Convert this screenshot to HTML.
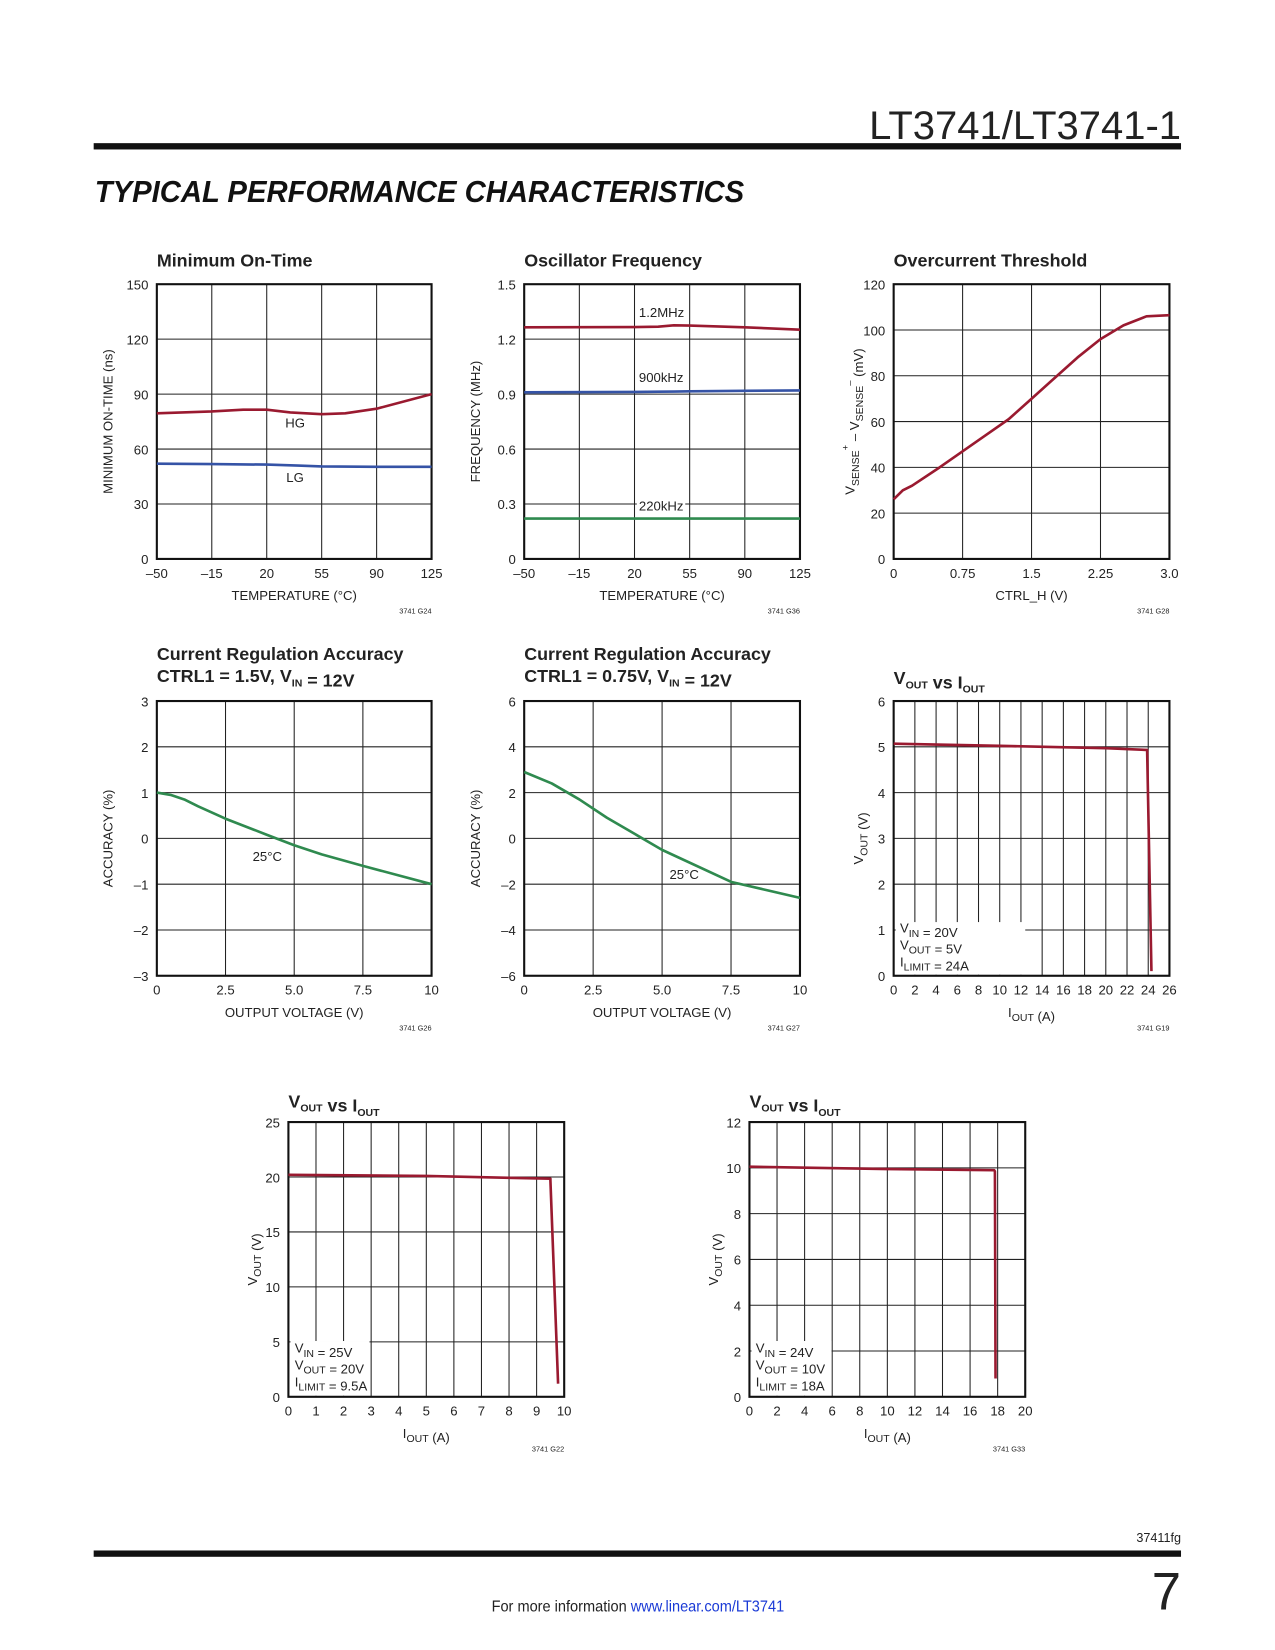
<!DOCTYPE html>
<html><head><meta charset="utf-8">
<style>
html,body{margin:0;padding:0;background:#fff;}
svg{display:block;font-family:"Liberation Sans Narrow","Liberation Sans",sans-serif;}
</style></head>
<body>
<svg id="page" width="1275" height="1650" viewBox="0 0 1275 1650" xmlns="http://www.w3.org/2000/svg">
<g transform="scale(1.0526)">
<text x="1122" y="132" text-anchor="end" font-family="Liberation Sans, sans-serif" font-size="38" fill="#222" font-weight="300">LT3741/LT3741-1</text>
<rect x="89" y="136" width="1033" height="6" fill="#111"/>
<text x="90" y="192" font-family="Liberation Sans, sans-serif" font-size="29" font-weight="bold" font-style="italic" fill="#111" textLength="617" lengthAdjust="spacingAndGlyphs">TYPICAL PERFORMANCE CHARACTERISTICS</text>
<g id="charts"></g>
<text x="1122" y="1465" text-anchor="end" font-size="12" fill="#222">37411fg</text>
<rect x="89" y="1473" width="1033" height="6" fill="#111"/>
<text x="1122" y="1529" text-anchor="end" font-family="Liberation Sans, sans-serif" font-size="50" font-weight="300" fill="#222">7</text>
<text x="467" y="1531" font-size="15" fill="#222" textLength="278" lengthAdjust="spacingAndGlyphs">For more information <tspan fill="#1a3ad6">www.linear.com/LT3741</tspan></text>
</g>
</svg>
<script>
// ---- data ----
const c1Temp = [-50,-15,5,20,35,55,70,90,125];
const c1HG = [79.5,80.5,81.5,81.5,80,79,79.5,82,90];
const c1TempLG = [-50,-15,20,40,55,90,125];
const c1LG = [52,51.8,51.5,51,50.5,50.3,50.3];
const c2Temp = [-50,20,35,45,55,90,125];
const c2F12 = [1.265,1.266,1.268,1.275,1.274,1.265,1.252];
const c2F900 = [0.91,0.912,0.913,0.914,0.915,0.918,0.92];
const c2F220 = [0.22,0.22,0.22,0.22,0.22,0.22,0.22];
const c3Ctrl = [0,0.1,0.2,0.5,0.75,1,1.25,1.5,1.75,2,2.25,2.5,2.75,3];
const c3Vs = [26,30,32,40,47,54,61,70,79,88,96,102,106,106.5];
const c4Vout = [0,0.5,1,1.5,2.5,4,5,6,7.5,10];
const c4Acc = [1,0.95,0.85,0.7,0.43,0.08,-0.15,-0.35,-0.6,-1];
const c5Vout = [0,1,2,3,4,5,7.5,10];
const c5Acc = [2.9,2.4,1.7,0.9,0.2,-0.5,-1.9,-2.6];
const c6Iout = [0,10,20,23.9,24.3];
const c6Vout = [5.07,5.02,4.97,4.93,0.1];
const c7Iout = [0,5,9.5,9.5,9.78];
const c7Vout = [20.2,20.1,19.85,19.7,1.2];
const c8Iout = [0,10,17.75,17.8,17.85];
const c8Vout = [10.05,9.95,9.9,9.85,0.8];
const ticks1x = ['–50','–15','20','55','90','125'];
const ticks1y = ['0','30','60','90','120','150'];
const ticks2y = ['0','0.3','0.6','0.9','1.2','1.5'];
const ticks3x = ['0','0.75','1.5','2.25','3.0'];
const ticks3y = ['0','20','40','60','80','100','120'];
const ticks4x = ['0','2.5','5.0','7.5','10'];
const ticks4y = ['–3','–2','–1','0','1','2','3'];
const ticks5y = ['–6','–4','–2','0','2','4','6'];
const ticks6x = ['0','2','4','6','8','10','12','14','16','18','20','22','24','26'];
const ticks6y = ['0','1','2','3','4','5','6'];
const ticks7x = ['0','1','2','3','4','5','6','7','8','9','10'];
const ticks7y = ['0','5','10','15','20','25'];
const ticks8x = ['0','2','4','6','8','10','12','14','16','18','20'];
const ticks8y = ['0','2','4','6','8','10','12'];

const RED='#9a1a30', BLUE='#3553a6', GREEN='#2f8a4f';
const NS='http://www.w3.org/2000/svg';
const root=document.getElementById('charts');
function mk(tag,attrs,parent){const e=document.createElementNS(NS,tag);for(const k in attrs)e.setAttribute(k,attrs[k]);(parent||root).appendChild(e);return e;}

function chart(c){
  const g=mk('g',{});
  
  
  const X=v=>c.x+(v-c.xmin)/(c.xmax-c.xmin)*c.w;
  const Y=v=>c.y+c.h-(v-c.ymin)/(c.ymax-c.ymin)*c.h;
  const nx=c.xt.length-1, ny=c.yt.length-1;
  for(let i=1;i<nx;i++){const l=mk('line',{x1:c.x+i*c.w/nx,x2:c.x+i*c.w/nx,y1:c.y,y2:c.y+c.h,stroke:'#222','stroke-width':1},g);
    
    }
  for(let i=1;i<ny;i++){const l=mk('line',{x1:c.x,x2:c.x+c.w,y1:c.y+i*c.h/ny,y2:c.y+i*c.h/ny,stroke:'#222','stroke-width':1},g);
    
    }
  if(c.box){const b=mk('rect',{x:c.box[0],y:c.box[1],width:c.box[2],height:c.box[3],fill:'#fff'},g);
    
    }
  const fr=mk('rect',{x:c.x,y:c.y,width:c.w,height:c.h,fill:'none',stroke:'#111','stroke-width':2},g);
  
  
  c.xt.forEach((t,i)=>{const e=mk('text',{x:c.x+i*c.w/nx,y:c.y+c.h+18,'text-anchor':'middle','font-size':12.5,fill:'#222'},g);e.textContent=t;
    
    });
  c.yt.forEach((t,i)=>{const e=mk('text',{x:c.x-8,y:c.y+c.h-i*c.h/ny+5,'text-anchor':'end','font-size':12.5,fill:'#222'},g);e.textContent=t;
    
    });
  c.series.forEach(s=>{const d=s.xs.map((v,i)=>(i?'L':'M')+X(v).toFixed(1)+','+Y(s.ys[i]).toFixed(1)).join('');
    const p=mk('path',{d:d,fill:'none',stroke:s.color,'stroke-width':2.5,'stroke-linejoin':'round'},g);
    
    });
  (c.labels||[]).forEach(L=>{
    if(L.bg){const r=mk('rect',{x:L.x-2,y:L.y-12,width:L.bg,height:16,fill:'#fff'},g);}
    const e=mk('text',{x:L.x,y:L.y,'font-size':12.5,fill:'#222'},g);e.innerHTML=L.t;
    
    });
  const t=mk('text',{x:c.x,y:c.titleY,'font-size':17,'font-weight':'bold',fill:'#222'},g);t.innerHTML=c.title;
  
  
  if(c.title2){const t2=mk('text',{x:c.x,y:c.titleY+21,'font-size':17,'font-weight':'bold',fill:'#222'},g);t2.innerHTML=c.title2;
    
    }
  const xl=mk('text',{x:c.x+c.w/2,y:c.y+c.h+39,'text-anchor':'middle','font-size':12.5,fill:'#222'},g);xl.innerHTML=c.xlabel;
  
  
  const yx=c.ylx||(c.x-42);
  const yl=mk('text',{x:yx,y:c.y+c.h/2,'text-anchor':'middle','font-size':12.5,fill:'#222',transform:'rotate(-90 '+yx+' '+(c.y+c.h/2)+')'},g);yl.innerHTML=c.ylabel;
  
  
  if(c.code){const cd=mk('text',{x:c.x+c.w,y:c.y+c.h+52,'text-anchor':'end','font-size':7,fill:'#222'},g);cd.textContent=c.code;
    
    }
}
const sub=s=>'<tspan font-size="10" dy="4">'+s+'</tspan><tspan dy="-4"></tspan>';
const TEMP='TEMPERATURE (°C)';
chart({name:'min-on-time-chart',x:149,y:270,w:261,h:261,xmin:-50,xmax:125,ymin:0,ymax:150,xt:ticks1x,yt:ticks1y,titleY:253,title:'Minimum On-Time',xlabel:TEMP,ylabel:'MINIMUM ON-TIME (ns)',code:'3741 G24',
 series:[{name:'hg-line',xs:c1Temp,ys:c1HG,color:RED},{name:'lg-line',xs:c1TempLG,ys:c1LG,color:BLUE}],
 labels:[{x:271,y:406,t:'HG'},{x:272,y:458,t:'LG'}]});
chart({name:'osc-frequency-chart',x:498,y:270,w:262,h:261,xmin:-50,xmax:125,ymin:0,ymax:1.5,xt:ticks1x,yt:ticks2y,titleY:253,title:'Oscillator Frequency',xlabel:TEMP,ylabel:'FREQUENCY (MHz)',code:'3741 G36',
 series:[{name:'freq-1p2mhz-line',xs:c2Temp,ys:c2F12,color:RED},{name:'freq-900khz-line',xs:c2Temp,ys:c2F900,color:BLUE},{name:'freq-220khz-line',xs:c2Temp,ys:c2F220,color:GREEN}],
 labels:[{x:607,y:301,t:'1.2MHz',bg:46},{x:607,y:363,t:'900kHz',bg:46},{x:607,y:485,t:'220kHz',bg:46}]});
chart({name:'overcurrent-threshold-chart',x:849,y:270,w:262,h:261,xmin:0,xmax:3,ymin:0,ymax:120,xt:ticks3x,yt:ticks3y,titleY:253,title:'Overcurrent Threshold',xlabel:'CTRL_H (V)',ylabel:'V'+sub('SENSE')+'<tspan font-size="9" dy="-10">+</tspan><tspan dy="10"> – V</tspan>'+sub('SENSE')+'<tspan font-size="9" dy="-10">–</tspan><tspan dy="10"> (mV)</tspan>',ylx:812,code:'3741 G28',
 series:[{name:'threshold-line',xs:c3Ctrl,ys:c3Vs,color:RED}]});
chart({name:'current-reg-accuracy-1p5v-chart',x:149,y:666,w:261,h:261,xmin:0,xmax:10,ymin:-3,ymax:3,xt:ticks4x,yt:ticks4y,titleY:627,title:'Current Regulation Accuracy',title2:'CTRL1 = 1.5V, V'+sub('IN')+' = 12V',xlabel:'OUTPUT VOLTAGE (V)',ylabel:'ACCURACY (%)',code:'3741 G26',
 series:[{name:'accuracy-line',xs:c4Vout,ys:c4Acc,color:GREEN}],labels:[{x:240,y:818,t:'25°C'}]});
chart({name:'current-reg-accuracy-0p75v-chart',x:498,y:666,w:262,h:261,xmin:0,xmax:10,ymin:-6,ymax:6,xt:ticks4x,yt:ticks5y,titleY:627,title:'Current Regulation Accuracy',title2:'CTRL1 = 0.75V, V'+sub('IN')+' = 12V',xlabel:'OUTPUT VOLTAGE (V)',ylabel:'ACCURACY (%)',code:'3741 G27',
 series:[{name:'accuracy-line',xs:c5Vout,ys:c5Acc,color:GREEN}],labels:[{x:636,y:835,t:'25°C'}]});
chart({name:'vout-vs-iout-5v-chart',x:849,y:666,w:262,h:261,xmin:0,xmax:26,ymin:0,ymax:6,xt:ticks6x,yt:ticks6y,titleY:650,title:'V'+sub('OUT')+' vs I'+sub('OUT'),xlabel:'I'+sub('OUT')+' (A)',ylabel:'V'+sub('OUT')+' (V)',ylx:820,code:'3741 G19',
 box:[851,876,123,50],series:[{name:'vout-line',xs:c6Iout,ys:c6Vout,color:RED}],
 labels:[{x:855,y:886,t:'V'+sub('IN')+' = 20V'},{x:855,y:902,t:'V'+sub('OUT')+' = 5V'},{x:855,y:918,t:'I'+sub('LIMIT')+' = 24A'}]});
chart({name:'vout-vs-iout-20v-chart',x:274,y:1066,w:262,h:261,xmin:0,xmax:10,ymin:0,ymax:25,xt:ticks7x,yt:ticks7y,titleY:1052,title:'V'+sub('OUT')+' vs I'+sub('OUT'),xlabel:'I'+sub('OUT')+' (A)',ylabel:'V'+sub('OUT')+' (V)',ylx:244,code:'3741 G22',
 box:[276,1274,75,52],series:[{name:'vout-line',xs:c7Iout,ys:c7Vout,color:RED}],
 labels:[{x:280,y:1285,t:'V'+sub('IN')+' = 25V'},{x:280,y:1301,t:'V'+sub('OUT')+' = 20V'},{x:280,y:1317,t:'I'+sub('LIMIT')+' = 9.5A'}]});
chart({name:'vout-vs-iout-10v-chart',x:712,y:1066,w:262,h:261,xmin:0,xmax:20,ymin:0,ymax:12,xt:ticks8x,yt:ticks8y,titleY:1052,title:'V'+sub('OUT')+' vs I'+sub('OUT'),xlabel:'I'+sub('OUT')+' (A)',ylabel:'V'+sub('OUT')+' (V)',ylx:682,code:'3741 G33',
 box:[714,1274,76,52],series:[{name:'vout-line',xs:c8Iout,ys:c8Vout,color:RED}],
 labels:[{x:718,y:1285,t:'V'+sub('IN')+' = 24V'},{x:718,y:1301,t:'V'+sub('OUT')+' = 10V'},{x:718,y:1317,t:'I'+sub('LIMIT')+' = 18A'}]});
</script>
</body></html>
